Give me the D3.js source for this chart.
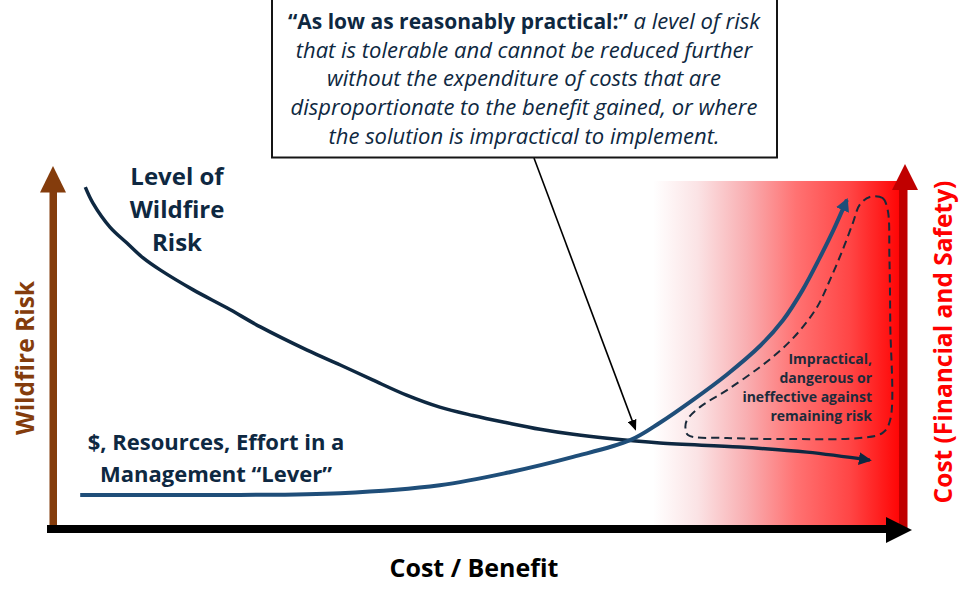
<!DOCTYPE html>
<html><head><meta charset="utf-8">
<script src="https://cdn.jsdelivr.net/npm/d3@7"></script>
<style>html,body{margin:0;padding:0;background:#fff;} svg{display:block;font-family:"Open Sans",Lato,sans-serif;}</style>
</head><body>
<svg id="c" width="975" height="602"></svg>
<script>
// ---- data (abstract units: 0..100 on both axes) ----
const riskX = [3.8, 4.7, 6.7, 8.7, 10.6, 12.6, 16.5, 20.5, 24.4, 29.9, 33.8, 37.6, 41.6, 45.5, 49.4, 53.4, 57.3, 61.2, 65.2, 71.4, 80.8, 88.7, 96.1];
const riskY = [93.9, 89.5, 82.9, 78.5, 74.4, 71.1, 65.6, 60.6, 55.4, 49.0, 44.9, 40.8, 36.6, 33.3, 31.0, 29.0, 27.2, 25.8, 24.7, 23.4, 22.3, 20.9, 18.7];
const leverX = [3.2, 10.2, 22.0, 33.8, 45.5, 53.4, 61.2, 67.9, 71.4, 75.3, 79.3, 83.2, 85.9, 88.2, 90.2, 91.8, 93.4];
const leverY = [9.1, 9.1, 9.1, 9.6, 11.8, 15.2, 19.6, 24.2, 29.0, 35.3, 42.3, 50.2, 57.3, 65.6, 74.4, 82.0, 90.4];
const zoneX = [96.1, 97.6, 98.2, 98.4, 98.5, 98.5, 97.6, 94.9, 87.1, 79.3, 74.7, 74.4, 74.6, 76.1, 79.3, 83.2, 85.9, 87.9, 89.9, 91.4, 92.9, 94.1, 94.9];
const zoneY = [91.2, 90.9, 87.6, 74.7, 56.5, 29.8, 26.2, 24.8, 24.5, 24.8, 25.6, 27.8, 29.8, 33.3, 38.0, 44.4, 49.6, 54.5, 60.9, 68.3, 76.6, 84.0, 89.0];
const shadeExtentX = [70.6, 99.6];
const shadeTopY = 95.6;
const alarpPoint = [68.5, 27.3];

const riskLabel = ["Level of", "Wildfire", "Risk"];
const leverLabel = ["$, Resources, Effort in a", "Management \u201CLever\u201D"];
const zoneLabel = ["Impractical,", "dangerous or", "ineffective against", "remaining risk"];
const xTitle = "Cost / Benefit";
const yLeftTitle = "Wildfire Risk";
const yRightTitle = "Cost (Financial and Safety)";
const calloutBold = "\u201CAs low as reasonably practical:\u201D";
const calloutLines = [" a level of risk", "that is tolerable and cannot be reduced further", "without the expenditure of costs that are", "disproportionate to the benefit gained, or where", "the solution is impractical to implement."];

// ---- drawing ----
const svg = d3.select("#c");
const x = d3.scaleLinear().domain([0, 100]).range([53, 903]);
const y = d3.scaleLinear().domain([0, 100]).range([528, 165]);

const NAVY = "#0E2841", BLUE = "#1F4E79", BROWN = "#843C0C", DRED = "#C00000", RED = "#FF0000";

const defs = svg.append("defs");
const grad = defs.append("linearGradient").attr("id", "g").attr("x1", 0).attr("x2", 1).attr("y1", 0).attr("y2", 0);
[[0, "#FFFFFF"], [0.18, "#FBE3E5"], [0.38, "#F9AEB1"], [0.58, "#FF7272"], [0.8, "#FF4545"], [1, "#FF0505"]]
  .forEach(([o, c]) => grad.append("stop").attr("offset", o).attr("stop-color", c));

function marker(id, color, len, half) {
  defs.append("marker").attr("id", id).attr("markerUnits", "userSpaceOnUse")
    .attr("viewBox", `0 ${-half} ${len} ${half * 2}`).attr("refX", len - 2).attr("refY", 0)
    .attr("markerWidth", len).attr("markerHeight", half * 2).attr("orient", "auto")
    .append("path").attr("d", `M0,${-half}L${len},0L0,${half}Z`).attr("fill", color);
}
marker("mLever", BLUE, 13, 7);
marker("mRisk", NAVY, 13, 6.5);
marker("mCall", "#000", 11, 4.5);

// shaded zone
svg.append("rect").attr("x", x(shadeExtentX[0])).attr("y", y(shadeTopY))
  .attr("width", x(shadeExtentX[1]) - x(shadeExtentX[0])).attr("height", y(0) - y(shadeTopY))
  .attr("fill", "url(#g)");

// right axis (dark red)
svg.append("rect").attr("x", 899).attr("y", 188).attr("width", 8.5).attr("height", 340).attr("fill", DRED);
svg.append("path").attr("d", "M892,190L918,190L905,164Z").attr("fill", DRED);
// left axis (brown)
svg.append("rect").attr("x", 49.5).attr("y", 190).attr("width", 7.5).attr("height", 338).attr("fill", BROWN);
svg.append("path").attr("d", "M40,192.5L66,192.5L53,166Z").attr("fill", BROWN);

const line = d3.line().x(d => x(d[0])).y(d => y(d[1])).curve(d3.curveCatmullRom.alpha(0.5));

// risk curve
svg.append("path").attr("d", line(d3.zip(riskX, riskY))).attr("fill", "none")
  .attr("stroke", NAVY).attr("stroke-width", 3.5).attr("marker-end", "url(#mRisk)");
// lever curve
svg.append("path").attr("d", line(d3.zip(leverX, leverY))).attr("fill", "none")
  .attr("stroke", BLUE).attr("stroke-width", 4).attr("marker-end", "url(#mLever)");

// dashed zone
const loop = d3.line().x(d => x(d[0])).y(d => y(d[1])).curve(d3.curveCatmullRomClosed.alpha(0.5));
svg.append("path").attr("d", loop(d3.zip(zoneX, zoneY))).attr("fill", "none")
  .attr("stroke", "#1a2a3a").attr("stroke-width", 2).attr("stroke-dasharray", "8,5");

// x axis (black)
svg.append("rect").attr("x", 47).attr("y", 525).attr("width", 842).attr("height", 8).attr("fill", "#000");
svg.append("path").attr("d", "M886,517L886,543L912,530Z").attr("fill", "#000");

// labels
svg.append("text").attr("x", 177).attr("y", 185).attr("text-anchor", "middle")
  .attr("font-size", 24).attr("font-weight", 700).attr("fill", NAVY)
  .selectAll("tspan").data(riskLabel).join("tspan").attr("x", 177).attr("dy", (d, i) => i ? 33 : 0).text(d => d);

svg.append("text").attr("x", 216).attr("y", 450).attr("text-anchor", "middle")
  .attr("font-size", 22).attr("font-weight", 700).attr("fill", NAVY)
  .selectAll("tspan").data(leverLabel).join("tspan").attr("x", 216).attr("dy", (d, i) => i ? 32 : 0).text(d => d);

svg.append("text").attr("x", 872).attr("y", 364).attr("text-anchor", "end")
  .attr("font-size", 14).attr("font-weight", 700).attr("fill", "#1c2b3b")
  .selectAll("tspan").data(zoneLabel).join("tspan").attr("x", 872).attr("dy", (d, i) => i ? 19 : 0).text(d => d);

svg.append("text").attr("x", 474).attr("y", 577).attr("text-anchor", "middle")
  .attr("font-size", 25).attr("font-weight", 700).attr("fill", "#000").text(xTitle);

svg.append("text").attr("transform", "translate(34,358) rotate(-90)").attr("text-anchor", "middle")
  .attr("font-size", 24.5).attr("font-weight", 700).attr("fill", BROWN).text(yLeftTitle);

svg.append("text").attr("transform", "translate(952,342) rotate(-90)").attr("text-anchor", "middle")
  .attr("font-size", 24.5).attr("font-weight", 700).attr("fill", RED).text(yRightTitle);

// callout
svg.append("line").attr("x1", 534).attr("y1", 158).attr("x2", x(alarpPoint[0])).attr("y2", y(alarpPoint[1]))
  .attr("stroke", "#000").attr("stroke-width", 1.6).attr("marker-end", "url(#mCall)");
svg.append("rect").attr("x", 272).attr("y", -2).attr("width", 505).attr("height", 159.5)
  .attr("fill", "#fff").attr("stroke", "#151515").attr("stroke-width", 2);
const ct = svg.append("text").attr("text-anchor", "middle").attr("font-size", 22).attr("fill", NAVY);
const l0 = ct.append("tspan").attr("x", 524).attr("y", 29);
l0.append("tspan").attr("font-weight", 700).attr("font-size", 21).text(calloutBold);
l0.append("tspan").attr("font-style", "italic").text(calloutLines[0]);
calloutLines.slice(1).forEach((t, i) => {
  ct.append("tspan").attr("x", 524).attr("y", 29 + (i + 1) * 28.7).attr("font-style", "italic").text(t);
});
</script>
</body></html>
